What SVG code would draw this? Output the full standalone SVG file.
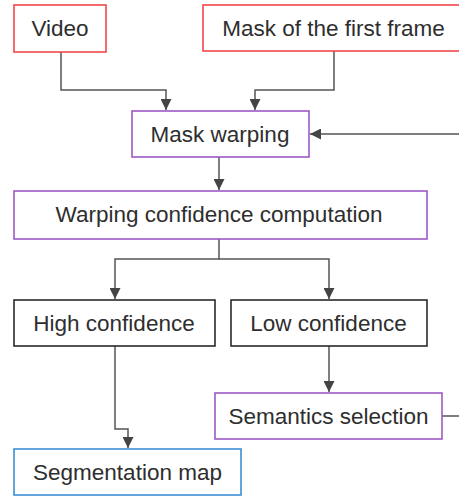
<svg xmlns="http://www.w3.org/2000/svg" width="459" height="498" viewBox="0 0 459 498">
<style>
.box{fill:#fff;stroke-width:1.6}
.red{stroke:#f0484a}
.pur{stroke:#9b59c4}
.blk{stroke:#2a2a2a}
.blu{stroke:#3b8fd4}
text{font-family:"Liberation Sans",Arial,sans-serif;font-size:22.5px;fill:#2e2e2e;text-anchor:middle}
.ln{fill:none;stroke:#555;stroke-width:1.5}
</style>
<defs>
<marker id="ah" viewBox="0 0 10 10" refX="10" refY="5" markerWidth="11" markerHeight="11" markerUnits="userSpaceOnUse" orient="auto">
<path d="M0,0 L10,5 L0,10 Z" fill="#444"/>
</marker>
</defs>
<rect width="459" height="498" fill="#fff"/>
<g id="connectors">
<path class="ln" d="M61,52 V90 H166 V110" marker-end="url(#ah)"/>
<path class="ln" d="M334,51 V90 H255 V110" marker-end="url(#ah)"/>
<path class="ln" d="M466,416 H442 M466,416 V134 H310" marker-end="url(#ah)"/>
<path class="ln" d="M219,157 V190" marker-end="url(#ah)"/>
<path class="ln" d="M219,239 V259 H115 V299" marker-end="url(#ah)"/>
<path class="ln" d="M219,259 H329 V299" marker-end="url(#ah)"/>
<path class="ln" d="M329,346 V392" marker-end="url(#ah)"/>
<path class="ln" d="M115,346 V429 H128 V448" marker-end="url(#ah)"/>
</g>
<g id="video"><rect class="box red" x="14" y="5" width="92" height="47"/><text x="60" y="35.5">Video</text></g>
<g id="mask-first"><rect class="box red" x="203" y="5" width="262" height="46"/><text x="333.5" y="35.5">Mask of the first frame</text></g>
<g id="mask-warping"><rect class="box pur" x="132" y="111" width="177" height="46"/><text x="220" y="141.5">Mask warping</text></g>
<g id="warping-conf"><rect class="box pur" x="14" y="191" width="413" height="48"/><text x="219" y="221.5">Warping confidence computation</text></g>
<g id="high-conf"><rect class="box blk" x="14" y="300" width="201" height="46"/><text x="114" y="330.5">High confidence</text></g>
<g id="low-conf"><rect class="box blk" x="231" y="300" width="196" height="46"/><text x="328.5" y="330.5">Low confidence</text></g>
<g id="semantics"><rect class="box pur" x="215" y="393" width="227" height="46"/><text x="328.5" y="423.5">Semantics selection</text></g>
<g id="segmentation"><rect class="box blu" x="14" y="449" width="227" height="46"/><text x="127.5" y="479.5">Segmentation map</text></g>
</svg>
